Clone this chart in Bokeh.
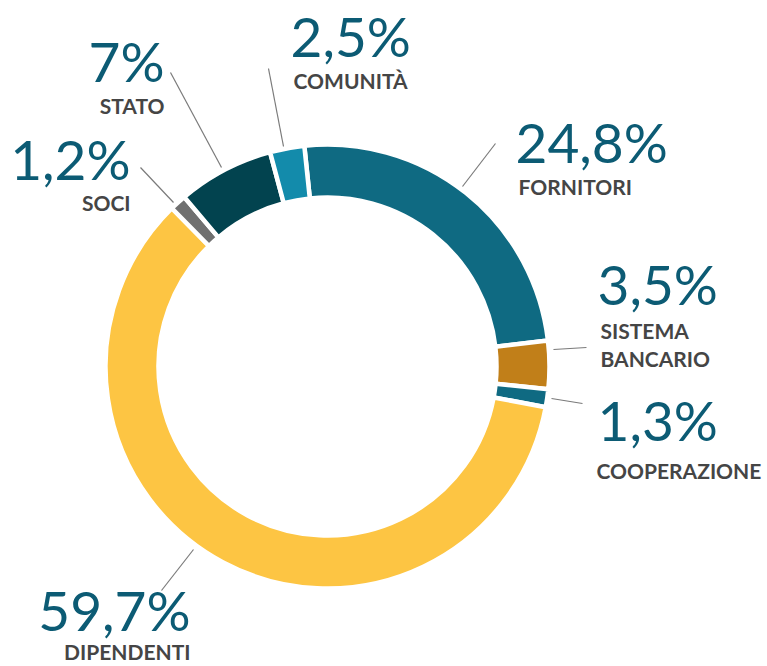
import numpy as np
from bokeh.plotting import figure
from bokeh.models import Range1d, ColumnDataSource
from bokeh.core.properties import value
from bokeh.embed import file_html
from bokeh.resources import INLINE

# ---- data ----
categories = ["FORNITORI", "SISTEMA\nBANCARIO", "COOPERAZIONE", "DIPENDENTI", "SOCI", "STATO", "COMUNITÀ"]
shares = [24.8, 3.5, 1.3, 59.7, 1.2, 7.0, 2.5]
pct_labels = ["24,8%", "3,5%", "1,3%", "59,7%", "1,2%", "7%", "2,5%"]
colors = ["#0f6a82", "#c17f19", "#0f6a82", "#fdc543", "#707070", "#02434f", "#138bab"]

W, H = 767, 666
PAGE_H = 666

def py(y):  # page pixel y -> data y (y up)
    return PAGE_H - y

p = figure(width=W, height=H, output_backend="svg", toolbar_location=None,
           x_range=Range1d(0, W), y_range=Range1d(PAGE_H - H, PAGE_H),
           min_border=0)
p.axis.visible = False
p.grid.visible = False
p.outline_line_color = None
p.background_fill_color = "white"

cx, cy = 327, py(366)
start_deg = 96.0
cum = np.concatenate([[0], np.cumsum(shares)])
a_start = np.radians(start_deg - cum[:-1] * 3.6)
a_end = np.radians(start_deg - cum[1:] * 3.6)

src = ColumnDataSource(dict(start=a_end, end=a_start, color=colors))
p.annular_wedge(x=cx, y=cy, inner_radius=169, outer_radius=222,
                start_angle="start", end_angle="end", color="color",
                line_color="white", line_width=4.5, source=src)

# leader lines (page coords)
leaders = [((462, 186), (495, 143)),
           ((553, 349), (586, 347)),
           ((551, 398), (582, 403)),
           ((161, 590), (193, 549)),
           ((140, 167), (173, 202)),
           ((170, 72), (221, 167)),
           ((268, 68), (283, 146))]
p.multi_line(xs=[[a[0], b[0]] for a, b in leaders],
             ys=[[py(a[1]), py(b[1])] for a, b in leaders],
             line_color="#7a7a7a", line_width=1.2)

# label layout: (x, number baseline, label baseline(s), align)
layout = [(515, 163, [194], "left"),
          (597, 305, [338, 366], "left"),
          (597, 441, [478], "left"),
          (190, 631, [659], "right"),
          (130, 180, [210], "right"),
          (164, 82, [113], "right"),
          (290, 57, [88], "left")]

NUM_SHIFT = 22   # svg baseline compensation
LAB_SHIFT = 8
num_col = "#0c5b74"
lab_col = "#454545"
for (x, nb, lbs, al), pct, cat in zip(layout, pct_labels, categories):
    p.text(x=[x], y=[py(nb - NUM_SHIFT)], text=[pct], text_font=value("Lato"),
           text_font_size="55px", text_color=num_col, text_align=al,
           text_baseline="alphabetic")
    lx = x + (3 if al == "left" else 0) - (4 if cat == "COOPERAZIONE" else 0)
    for ln, yb in zip(cat.split("\n"), lbs):
        p.text(x=[lx], y=[py(yb - LAB_SHIFT)], text=[ln], text_font=value("Lato"),
               text_font_size="21px", text_font_style="bold", text_color=lab_col,
               text_align=al, text_baseline="alphabetic")

open("out.html", "w").write(file_html(p, INLINE))
